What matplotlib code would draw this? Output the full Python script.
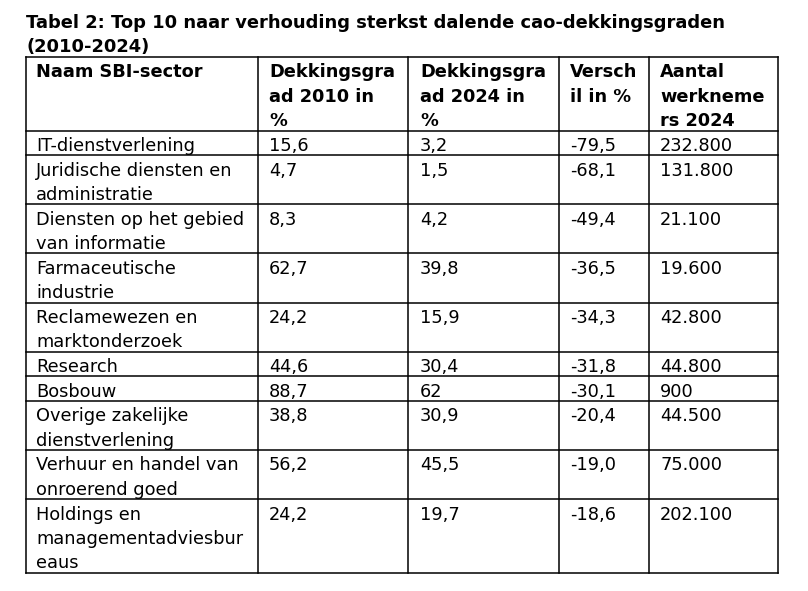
import matplotlib
matplotlib.use("Agg")
import matplotlib.pyplot as plt

# gegevens van de tabel
titel = ["Tabel 2: Top 10 naar verhouding sterkst dalende cao-dekkingsgraden",
         "(2010-2024)"]
kolommen = ["Naam SBI-sector\n\n",
            "Dekkingsgra\nad 2010 in\n%",
            "Dekkingsgra\nad 2024 in\n%",
            "Versch\nil in %",
            "Aantal\nwerkneme\nrs 2024"]
sectoren = ["IT-dienstverlening",
            "Juridische diensten en\nadministratie",
            "Diensten op het gebied\nvan informatie",
            "Farmaceutische\nindustrie",
            "Reclamewezen en\nmarktonderzoek",
            "Research",
            "Bosbouw",
            "Overige zakelijke\ndienstverlening",
            "Verhuur en handel van\nonroerend goed",
            "Holdings en\nmanagementadviesbur\neaus"]
dekking_2010 = ["15,6", "4,7", "8,3", "62,7", "24,2", "44,6", "88,7", "38,8", "56,2", "24,2"]
dekking_2024 = ["3,2", "1,5", "4,2", "39,8", "15,9", "30,4", "62", "30,9", "45,5", "19,7"]
verschil = ["-79,5", "-68,1", "-49,4", "-36,5", "-34,3", "-31,8", "-30,1", "-20,4", "-19,0", "-18,6"]
werknemers = ["232.800", "131.800", "21.100", "19.600", "42.800", "44.800", "900",
              "44.500", "75.000", "202.100"]

W, H = 808, 591
fig = plt.figure(figsize=(W / 100, H / 100), dpi=100)
ax = fig.add_axes([0, 0, 1, 1])
ax.set_xlim(0, W)
ax.set_ylim(H, 0)
ax.axis("off")

font = "DejaVu Sans"
kolom_x = [26, 258, 408, 559, 649, 778]
pad_x = [10, 11, 12, 11, 11]
regel = 24.4
tabel_top = 57

# titel
for i, t in enumerate(titel):
    ax.text(26, 28.5 + i * 23.4, t, fontsize=12.9, fontweight="bold",
            family=font, va="baseline", ha="left")

rijen = [kolommen] + [list(r) for r in zip(sectoren, dekking_2010, dekking_2024,
                                             verschil, werknemers)]

y = tabel_top
grenzen = [y]
for r, rij in enumerate(rijen):
    n = max(c.count("\n") + 1 for c in rij)
    for k, cel in enumerate(rij):
        for j, tekst in enumerate(cel.split("\n")):
            ax.text(kolom_x[k] + pad_x[k], y + 20.3 + j * regel, tekst,
                    fontsize=12.8, family=font, va="baseline", ha="left",
                    fontweight="bold" if r == 0 else "normal")
    y += n * regel + 0.3
    grenzen.append(y)

lw = 1.1
for g in grenzen:
    ax.plot([kolom_x[0], kolom_x[-1]], [g, g], color="black", lw=lw,
            solid_capstyle="projecting")
for x in kolom_x:
    ax.plot([x, x], [grenzen[0], grenzen[-1]], color="black", lw=lw,
            solid_capstyle="projecting")

fig.savefig("out.png", dpi=100)
